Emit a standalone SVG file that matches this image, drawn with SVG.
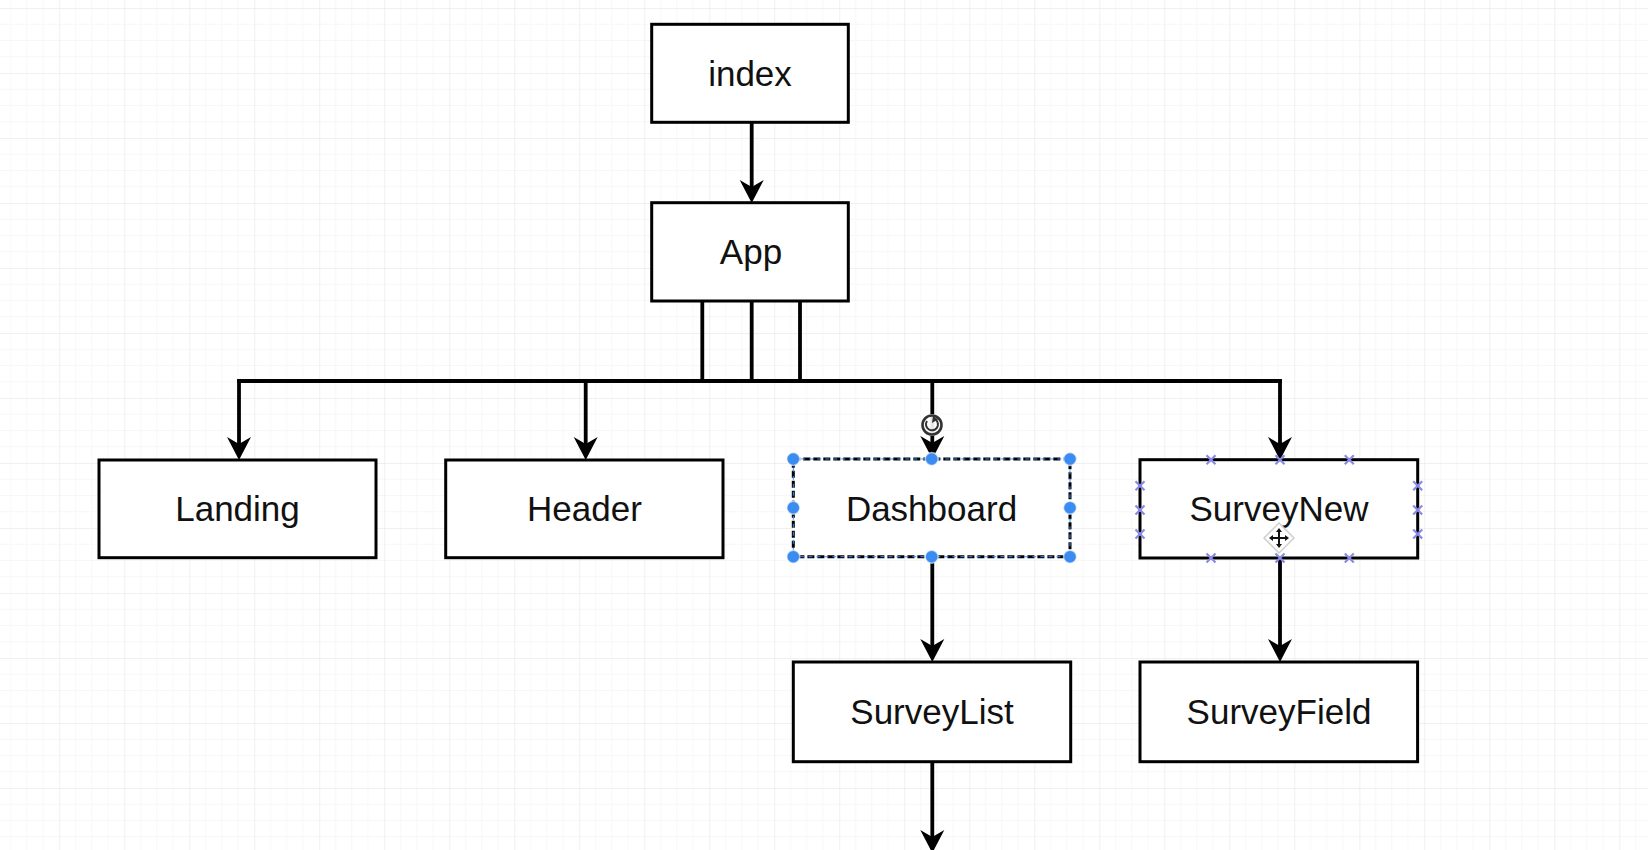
<svg xmlns="http://www.w3.org/2000/svg" width="1648" height="850" viewBox="0 0 1648 850">
<style>
.box{fill:#fff;stroke:#000;stroke-width:3}
.lbl{font-family:"Liberation Sans",Arial,sans-serif;font-size:35px;fill:#111;text-anchor:middle}
.edge{fill:none;stroke:#000;stroke-width:3.8}
.h{fill:#3b8cf0;stroke:#fff;stroke-width:1.5;stroke-opacity:0.6}
.cp{stroke:#8a8ae6;stroke-width:2.2;fill:none}
</style>
<defs>
<pattern id="grid" patternUnits="userSpaceOnUse" x="59.3" y="8" width="65" height="65">
<path d="M16.25 0V65M32.5 0V65M48.75 0V65M0 16.25H65M0 32.5H65M0 48.75H65" stroke="#f7f7f7" stroke-width="1" fill="none"/>
<path d="M0 0V65M0 0H65" stroke="#ebebeb" stroke-width="1.5" fill="none"/>
</pattern>
<path id="x" d="M-4.5 -4.5L4.5 4.5M-4.5 4.5L4.5 -4.5"/>
</defs>
<rect width="1648" height="850" fill="#fff"/>
<rect width="1648" height="850" fill="url(#grid)"/>

<g id="connectors">
<line class="edge" x1="751.7" y1="122" x2="751.7" y2="195"/>
<line class="edge" x1="702.3" y1="301" x2="702.3" y2="381"/>
<line class="edge" x1="751.7" y1="301" x2="751.7" y2="381"/>
<line class="edge" x1="800" y1="301" x2="800" y2="381"/>
<line class="edge" x1="237.1" y1="381" x2="1281.9" y2="381"/>
<line class="edge" x1="239" y1="379.1" x2="239" y2="452"/>
<line class="edge" x1="585.7" y1="379.1" x2="585.7" y2="452"/>
<line class="edge" x1="932.3" y1="379.1" x2="932.3" y2="450"/>
<line class="edge" x1="1280" y1="379.1" x2="1280" y2="452"/>
<line class="edge" x1="932.3" y1="557" x2="932.3" y2="655"/>
<line class="edge" x1="1280" y1="558" x2="1280" y2="655"/>
<line class="edge" x1="932.3" y1="762" x2="932.3" y2="845"/>
<g fill="#000">
<path d="M751.7 203L739.7 180L751.7 187L763.7 180Z"/>
<path d="M239 460L227 437L239 444L251 437Z"/>
<path d="M585.7 460L573.7 437L585.7 444L597.7 437Z"/>
<path d="M932.3 459L920.3 436L932.3 443L944.3 436Z"/>
<path d="M1280 460L1268 437L1280 444L1292 437Z"/>
<path d="M932.3 662L920.3 639L932.3 646L944.3 639Z"/>
<path d="M1280 662L1268 639L1280 646L1292 639Z"/>
<path d="M932.3 853L920.3 830L932.3 837L944.3 830Z"/>
</g>
</g>

<g id="index"><rect class="box" x="651.7" y="24.3" width="196.6" height="98"/><text class="lbl" x="750" y="86">index</text></g>
<g id="App"><rect class="box" x="651.7" y="202.7" width="196.6" height="98.3"/><text class="lbl" x="751" y="264">App</text></g>
<g id="Landing"><rect class="box" x="99" y="460" width="277" height="97.7"/><text class="lbl" x="237.5" y="521">Landing</text></g>
<g id="Header"><rect class="box" x="445.7" y="460" width="277.3" height="97.7"/><text class="lbl" x="584.5" y="521">Header</text></g>
<g id="Dashboard">
<rect x="793.3" y="459" width="276.7" height="97.7" fill="#fff" stroke="#000" stroke-width="3" stroke-dasharray="7 3"/>
<rect x="793.3" y="459" width="276.7" height="97.7" fill="none" stroke="#3b8cf0" stroke-width="1" stroke-dasharray="4 4"/>
<text class="lbl" x="931.5" y="521">Dashboard</text>
<circle class="h" cx="793.3" cy="459" r="6.5"/><circle class="h" cx="931.7" cy="459" r="6.5"/><circle class="h" cx="1070" cy="459" r="6.5"/>
<circle class="h" cx="793.3" cy="507.8" r="6.5"/><circle class="h" cx="1070" cy="507.8" r="6.5"/>
<circle class="h" cx="793.3" cy="556.7" r="6.5"/><circle class="h" cx="931.7" cy="556.7" r="6.5"/><circle class="h" cx="1070" cy="556.7" r="6.5"/>
<circle cx="932" cy="425" r="11" fill="#fff" fill-opacity="0.9"/>
<circle cx="932" cy="425" r="9.5" fill="none" stroke="#333" stroke-width="2.6"/>
<path d="M927 421A6 6 0 1 0 935.5 419.5" fill="none" stroke="#333" stroke-width="2"/>
<path d="M933 415.5L938 419.5L932 423Z" fill="#333"/>
</g>
<g id="SurveyNew">
<rect class="box" x="1140" y="459.7" width="277.7" height="98.3"/>
<text class="lbl" x="1279" y="521">SurveyNew</text>
<g class="cp">
<use href="#x" x="1211" y="459.7"/><use href="#x" x="1280" y="459.7"/><use href="#x" x="1349.3" y="459.7"/>
<use href="#x" x="1211" y="558"/><use href="#x" x="1280" y="558"/><use href="#x" x="1349.3" y="558"/>
<use href="#x" x="1140" y="485.7"/><use href="#x" x="1140" y="510"/><use href="#x" x="1140" y="534"/>
<use href="#x" x="1417.7" y="485.7"/><use href="#x" x="1417.7" y="510"/><use href="#x" x="1417.7" y="534"/>
</g>
<path d="M1279 523L1294 538L1279 553L1264 538Z" fill="#fff" fill-opacity="0.85" stroke="#cfcfcf" stroke-width="1.5"/>
<path d="M1279 530V546M1271 538H1287" stroke="#111" stroke-width="2"/>
<path d="M1279 528L1276 532H1282ZM1279 548L1276 544H1282ZM1269 538L1273 535V541ZM1289 538L1285 535V541Z" fill="#111"/>
</g>
<g id="SurveyList"><rect class="box" x="793.3" y="662" width="277.4" height="99.7"/><text class="lbl" x="932" y="724">SurveyList</text></g>
<g id="SurveyField"><rect class="box" x="1140" y="662" width="277.6" height="99.7"/><text class="lbl" x="1279" y="724">SurveyField</text></g>
</svg>
